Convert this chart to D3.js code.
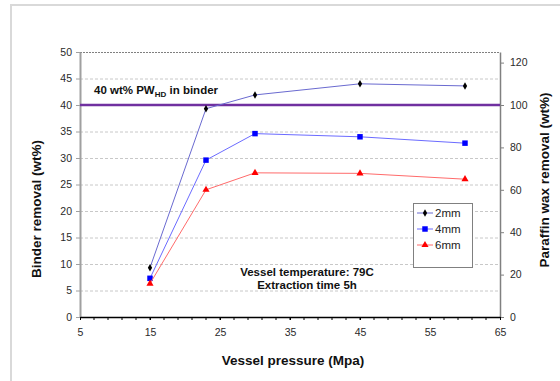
<!DOCTYPE html>
<html>
<head>
<meta charset="utf-8">
<script src="https://cdn.jsdelivr.net/npm/d3@7/dist/d3.min.js"></script>
<style>
  html, body { margin: 0; padding: 0; background: #fff; }
  svg { display: block; font-family: "Liberation Sans", Arial, sans-serif; }
</style>
</head>
<body>
<svg id="chart" width="560" height="381"></svg>
<script>
// Vessel pressure (MPa) at which each extraction was run
const pressure = [15, 23, 30, 45, 60];
// Binder removal (wt%) per sample thickness
const removal2mm = [9.3, 39.3, 41.9, 44.0, 43.6];
const removal4mm = [7.3, 29.6, 34.6, 34.0, 32.8];
const removal6mm = [6.3, 24.0, 27.2, 27.1, 26.0];
const seriesNames = ["2mm", "4mm", "6mm"];
// Reference level: 40 wt% PW_HD in binder (== 100 % paraffin wax removal)
const referenceLevel = 40;
const xTicks = [5, 15, 25, 35, 45, 55, 65];
const leftTicks = [0, 5, 10, 15, 20, 25, 30, 35, 40, 45, 50];
const rightTicks = [0, 20, 40, 60, 80, 100, 120];

const svg = d3.select("#chart");
const m = { left: 80, right: 500, top: 52, bottom: 317 };

// Outer chart frame
svg.append("rect").attr("x", 11).attr("y", 5).attr("width", 560).attr("height", 400)
  .attr("fill", "none").attr("stroke", "#d9d9d9").attr("stroke-width", 2);

const x = d3.scaleLinear().domain([5, 65]).range([m.left, m.right]);
const y = d3.scaleLinear().domain([0, 50]).range([m.bottom, m.top]);
const y2 = d3.scaleLinear().domain([0, 125]).range([m.bottom, m.top]);

// Horizontal gridlines
svg.append("g").selectAll("line").data(leftTicks.filter(v => v > 0 && v < 50)).join("line")
  .attr("x1", m.left).attr("x2", m.right)
  .attr("y1", d => y(d) + 0.5).attr("y2", d => y(d) + 0.5)
  .attr("stroke", "#c8c8c8").attr("stroke-width", 1).attr("stroke-dasharray", "3,2");
// Top plot edge
svg.append("line").attr("x1", m.left).attr("x2", m.right)
  .attr("y1", y(50) + 0.5).attr("y2", y(50) + 0.5)
  .attr("stroke", "#808080").attr("stroke-width", 1).attr("stroke-dasharray", "2,1");

const tickFont = g => g.selectAll("text").attr("font-size", 10.5).attr("fill", "#2a2a2a")
  .attr("font-family", "'Liberation Sans', Arial, sans-serif");

// Left axis
const gl = svg.append("g").attr("transform", `translate(${m.left},0)`)
  .call(d3.axisLeft(y).tickValues(leftTicks).tickSize(4).tickPadding(4).tickSizeOuter(0));
gl.select(".domain").attr("stroke", "#a0a0a0").attr("stroke-width", 2);
gl.selectAll(".tick line").attr("stroke", "#a0a0a0");
gl.call(tickFont);

// Right axis
const gr = svg.append("g").attr("transform", `translate(${m.right},0)`)
  .call(d3.axisRight(y2).tickValues(rightTicks).tickSize(4).tickPadding(6).tickSizeOuter(0));
gr.select(".domain").attr("stroke", "#808080").attr("stroke-width", 1.5);
gr.selectAll(".tick line").attr("stroke", "#808080");
gr.call(tickFont);

// Bottom axis: labelled every 10, minor ticks every 2
const minorX = d3.range(7, 65, 2);
svg.append("g").selectAll("line").data(minorX).join("line")
  .attr("x1", d => x(d)).attr("x2", d => x(d))
  .attr("y1", m.bottom).attr("y2", m.bottom + 3)
  .attr("stroke", "#000").attr("stroke-width", 1);
const gb = svg.append("g").attr("transform", `translate(0,${m.bottom})`)
  .call(d3.axisBottom(x).tickValues(xTicks).tickSize(3).tickPadding(9).tickSizeOuter(0));
gb.select(".domain").attr("stroke", "#000").attr("stroke-width", 1.5);
gb.selectAll(".tick line").attr("stroke", "#000");
gb.call(tickFont);

// Reference level line
svg.append("line").attr("x1", m.left).attr("x2", m.right)
  .attr("y1", y(referenceLevel)).attr("y2", y(referenceLevel))
  .attr("stroke", "#7030a0").attr("stroke-width", 2.5);

const rows = [removal2mm, removal4mm, removal6mm];
const lineColors = ["#6a6ad0", "#6b6bff", "#ff6b6b"];
const markColors = ["#000", "#0000ff", "#ff0000"];
const markTypes = [d3.symbolDiamond, d3.symbolSquare, d3.symbolTriangle];
const markSizes = [16, 30, 22];

const line = d3.line().x(d => x(d[0])).y(d => y(d[1]));
rows.forEach((vals, i) => {
  const pts = pressure.map((p, j) => [p, vals[j]]);
  svg.append("path").datum(pts).attr("d", line)
    .attr("fill", "none").attr("stroke", lineColors[i]).attr("stroke-width", 1);
  svg.append("g").selectAll("path").data(pts).join("path")
    .attr("transform", d => `translate(${x(d[0])},${y(d[1])})`)
    .attr("d", d3.symbol().type(markTypes[i]).size(markSizes[i]))
    .attr("fill", markColors[i]);
});

// Legend
const lg = svg.append("g");
lg.append("rect").attr("x", 413.5).attr("y", 203.5).attr("width", 59).attr("height", 64)
  .attr("fill", "#fff").attr("stroke", "#808080").attr("stroke-width", 1);
seriesNames.forEach((name, i) => {
  const cy = 213 + i * 16;
  lg.append("line").attr("x1", 417).attr("x2", 433).attr("y1", cy).attr("y2", cy)
    .attr("stroke", lineColors[i]).attr("stroke-width", 1);
  lg.append("path").attr("transform", `translate(425,${cy})`)
    .attr("d", d3.symbol().type(markTypes[i]).size(markSizes[i])).attr("fill", markColors[i]);
  lg.append("text").attr("x", 435).attr("y", cy + 4).attr("font-size", 11.5)
    .attr("fill", "#222").text(name);
});

// Annotations
const ref = svg.append("text").attr("x", 94).attr("y", 94).attr("font-size", 11.5)
  .attr("font-weight", "bold").attr("fill", "#111");
ref.append("tspan").text("40 wt% PW");
ref.append("tspan").attr("font-size", 8).attr("dy", 3).text("HD");
ref.append("tspan").attr("dy", -3).text(" in binder");

svg.append("text").attr("x", 307).attr("y", 276).attr("text-anchor", "middle")
  .attr("font-size", 11.5).attr("font-weight", "bold").attr("fill", "#111")
  .text("Vessel temperature: 79C");
svg.append("text").attr("x", 307).attr("y", 289).attr("text-anchor", "middle")
  .attr("font-size", 11.5).attr("font-weight", "bold").attr("fill", "#111")
  .text("Extraction time 5h");

// Axis titles
svg.append("text").attr("transform", "translate(41,209) rotate(-90)")
  .attr("text-anchor", "middle").attr("font-size", 13.5).attr("font-weight", "bold")
  .attr("fill", "#111").text("Binder removal (wt%)");
svg.append("text").attr("transform", "translate(549,180) rotate(-90)")
  .attr("text-anchor", "middle").attr("font-size", 13.5).attr("font-weight", "bold")
  .attr("fill", "#111").text("Paraffin wax removal (wt%)");
svg.append("text").attr("x", 293).attr("y", 365).attr("text-anchor", "middle")
  .attr("font-size", 13.5).attr("font-weight", "bold").attr("fill", "#111")
  .text("Vessel pressure (Mpa)");
</script>
</body>
</html>
